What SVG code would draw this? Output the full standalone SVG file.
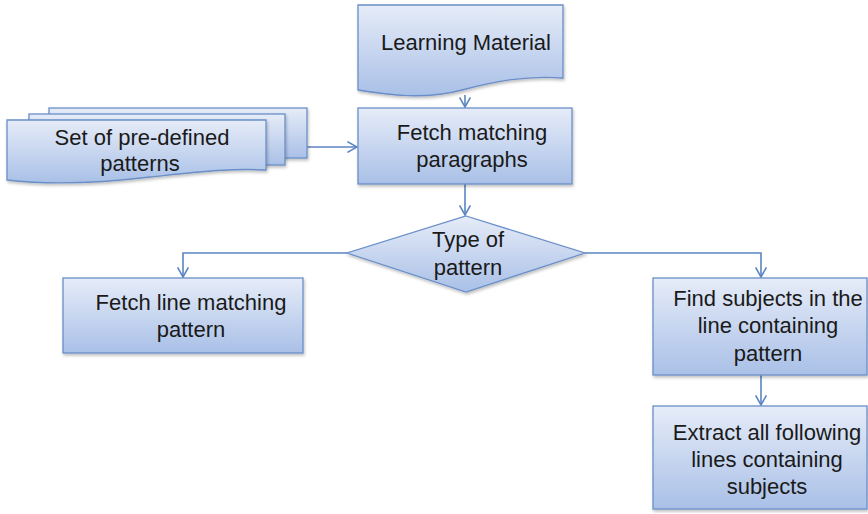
<svg xmlns="http://www.w3.org/2000/svg" width="868" height="514" viewBox="0 0 868 514">
  <defs>
    <linearGradient id="fillGrad" x1="0" y1="0" x2="0" y2="1">
      <stop offset="0" stop-color="#e6ecf8"/>
      <stop offset="1" stop-color="#a9c0e7"/>
    </linearGradient>
    <filter id="shadow" x="-10%" y="-10%" width="120%" height="130%">
      <feDropShadow dx="1" dy="2" stdDeviation="1.5" flood-color="#000" flood-opacity="0.25"/>
    </filter>
    <marker id="arrow" markerUnits="userSpaceOnUse" markerWidth="12" markerHeight="12" refX="9" refY="5" orient="auto" viewBox="0 0 10 10">
      <path d="M1,0.5 L9,5 L1,9.5" fill="none" stroke="#5b85c2" stroke-width="1.3"/>
    </marker>
    <style>
      .shape { fill: url(#fillGrad); stroke: #6a8fc8; stroke-width: 1.3; filter: url(#shadow); }
      .conn { fill: none; stroke: #5b85c2; stroke-width: 1.6; marker-end: url(#arrow); }
      .label { font-family: "Liberation Sans", Arial, sans-serif; font-size: 22px; fill: #1a1a1a; text-anchor: middle; }
    </style>
  </defs>

  <!-- connectors -->
  <g id="connectors">
    <path class="conn" d="M465,95 V107"/>
    <path class="conn" d="M307,147 H357"/>
    <path class="conn" d="M465,184 V215"/>
    <path class="conn" d="M347,253 H183 V277"/>
    <path class="conn" d="M585,253 H761 V277"/>
    <path class="conn" d="M761,375 V405"/>
  </g>

  <!-- document: learning material -->
  <g id="learning-material">
    <path class="shape" d="M358,5 H563 V78 C 525,75 492,82 462,90 C 425,100 388,95 358,90 Z"/>
    <text class="label" x="466" y="50">Learning Material</text>
  </g>

  <!-- stacked documents: pattern set -->
  <g id="predefined-patterns">
    <rect class="shape" x="49" y="108" width="258" height="50"/>
    <rect class="shape" x="29" y="114" width="256" height="51"/>
    <path class="shape" d="M7,120 H266 V170 C 230,168 198,172 150,177 C 100,183 50,185 7,180 Z"/>
    <text class="label" x="142" y="145">Set of pre-defined</text>
    <text class="label" x="140" y="171">patterns</text>
  </g>

  <!-- process: fetch paragraphs -->
  <g id="fetch-paragraphs">
    <rect class="shape" x="358" y="108" width="214" height="76"/>
    <text class="label" x="472" y="140">Fetch matching</text>
    <text class="label" x="472" y="167">paragraphs</text>
  </g>

  <!-- decision: pattern type -->
  <g id="pattern-type">
    <path class="shape" d="M466,216 L585,253 L466,292 L347,253 Z"/>
    <text class="label" x="468" y="247">Type of</text>
    <text class="label" x="468" y="275">pattern</text>
  </g>

  <!-- process: fetch line -->
  <g id="fetch-line">
    <rect class="shape" x="63" y="278" width="240" height="75"/>
    <text class="label" x="191" y="310">Fetch line matching</text>
    <text class="label" x="191" y="337">pattern</text>
  </g>

  <!-- process: find subjects -->
  <g id="find-subjects">
    <rect class="shape" x="653" y="278" width="214" height="97"/>
    <text class="label" x="768" y="306">Find subjects in the</text>
    <text class="label" x="768" y="333">line containing</text>
    <text class="label" x="768" y="361">pattern</text>
  </g>

  <!-- process: extract lines -->
  <g id="extract-lines">
    <rect class="shape" x="653" y="406" width="214" height="103"/>
    <text class="label" x="767" y="440">Extract all following</text>
    <text class="label" x="767" y="467">lines containing</text>
    <text class="label" x="767" y="494">subjects</text>
  </g>
</svg>
